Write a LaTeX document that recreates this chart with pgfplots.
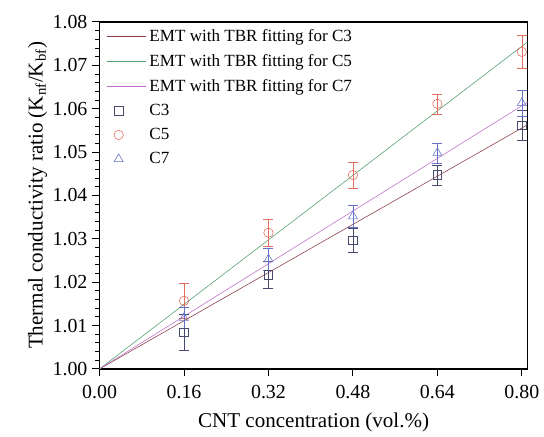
\documentclass[border=0pt]{standalone}
\usepackage{pgfplots}
\pgfplotsset{compat=1.18}
\usepackage{fontspec}
\setmainfont{Liberation Serif}
\definecolor{lc3}{RGB}{140,60,70}
\definecolor{lc5}{RGB}{80,160,110}
\definecolor{lc7}{RGB}{190,110,200}
\definecolor{mc3}{RGB}{70,75,110}
\definecolor{mc5}{RGB}{225,110,95}
\definecolor{mc7}{RGB}{100,115,200}
\pgfplotsset{longline/.style={legend image code/.code={\draw[##1] (0pt,0pt) -- (28pt,0pt);}}}
\begin{document}
\begin{tikzpicture}[x=1pt,y=1pt]
\begin{axis}[
  name=ax,
  scale only axis,
  width=301pt, height=244pt,
  xmin=0, xmax=0.811, ymin=1.0, ymax=1.08,
  xtick={0,0.16,0.32,0.48,0.64,0.80},
  ytick={1.00,1.01,1.02,1.03,1.04,1.05,1.06,1.07,1.08},
  minor y tick num=4,
  tick align=outside,
  xtick pos=left, ytick pos=left,
  major tick length=5pt, minor tick length=3pt,
  every tick/.style={black, semithick},
  axis line style={black, line width=1.2pt},
  /pgf/number format/assume math mode=true,
  /pgf/number format/fixed, /pgf/number format/fixed zerofill, /pgf/number format/precision=2,
  xticklabel style={yshift=-3pt},
  tick label style={font=\fontsize{14}{16}\selectfont},
  label style={font=\fontsize{14.8}{18}\selectfont},
  xlabel={CNT concentration (vol.\%)},
  ylabel={Thermal conductivity ratio (K\textsubscript{nf}/K\textsubscript{bf})},
  ylabel style={yshift=-3pt},
  xlabel style={yshift=-3pt},
  clip=true,
  legend style={at={(0.005,0.995)}, anchor=north west, draw=none, fill=none,
    font=\fontsize{12}{14}\selectfont, row sep=3.5pt, cells={anchor=west}},
  legend cell align=left,
]
\addplot[lc3, thin, longline] coordinates {(0,1.0) (0.811,1.0563)};
\addlegendentry{EMT with TBR fitting for C3}
\addplot[lc5, thin, longline] coordinates {(0,1.0) (0.811,1.0754)};
\addlegendentry{EMT with TBR fitting for C5}
\addplot[lc7, thin, longline] coordinates {(0,1.0) (0.811,1.0615)};
\addlegendentry{EMT with TBR fitting for C7}

\addplot[only marks, mark=square, mark size=3pt, mc3, thin,
  error bars/.cd, y dir=both, y explicit, error mark options={rotate=90, mark size=3.5pt, mc3}]
  coordinates {
  (0.16,1.0085) +- (0,0.0042)
  (0.32,1.0217) +- (0,0.0030)
  (0.48,1.0297) +- (0,0.0027)
  (0.64,1.0447) +- (0,0.0023)
  (0.80,1.0562) +- (0,0.0035)
  };
\addlegendentry{C3}
\addplot[only marks, mark=o, mark size=3.3pt, mc5, thin,
  error bars/.cd, y dir=both, y explicit, error mark options={rotate=90, mark size=3.5pt, mc5}]
  coordinates {
  (0.16,1.0157) +- (0,0.0040)
  (0.32,1.0314) +- (0,0.0031)
  (0.48,1.0447) +- (0,0.0030)
  (0.64,1.0611) +- (0,0.0023)
  (0.80,1.0731) +- (0,0.0038)
  };
\addlegendentry{C5}
\addplot[only marks, mark=triangle, mark size=3.6pt, mc7, thin,
  error bars/.cd, y dir=both, y explicit, error mark options={rotate=90, mark size=3.5pt, mc7}]
  coordinates {
  (0.16,1.0118) +- (0,0.0025)
  (0.32,1.0253) +- (0,0.0025)
  (0.48,1.0352) +- (0,0.0025)
  (0.64,1.0498) +- (0,0.0023)
  (0.80,1.0613) +- (0,0.0030)
  };
\addlegendentry{C7}
\end{axis}
\path (ax.south west) ++(-70pt,-47pt) coordinate (bl);
\path (ax.north east) ++(10pt,15.4pt) coordinate (tr);
\path (bl) rectangle (tr);
\end{tikzpicture}
\end{document}
